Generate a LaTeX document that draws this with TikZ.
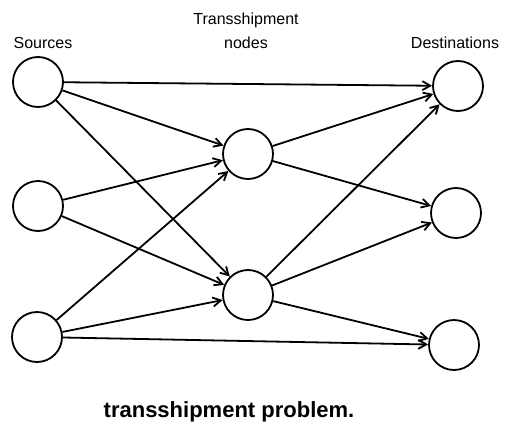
\documentclass[tikz,border=0pt]{standalone}
\usepackage{fontspec}
\setmainfont{Liberation Sans}
\usepackage{tikz}
\usetikzlibrary{arrows.meta,positioning,calc}
\tikzset{site/.style={draw=black,circle,inner sep=0pt,minimum size=50pt,line width=1.8pt}}
\tikzset{lbl/.style={font=\fontsize{16}{24}\selectfont,align=center,inner sep=0pt}}

\begin{document}
\begin{tikzpicture}[x=1pt, y=-1pt, line width=1.8pt, >={Straight Barb[length=8pt,width=9pt]}]
    \useasboundingbox (0,0) rectangle (510,425);
    % sources
    \node[site] (s1) at (38,82) {};
    \node[site] (s2) at (38,206) {};
    \node[site] (s3) at (37,337) {};
    % transshipment nodes
    \node[site] (t1) at (248,154) {};
    \node[site] (t2) at (248,295) {};
    % destinations
    \node[site] (d1) at (458,86) {};
    \node[site] (d2) at (456,213) {};
    \node[site] (d3) at (454,345) {};

    \node[lbl] (src) at (43,43) {Sources};
    \node[lbl] (tra) at (246,31) {Transshipment\\nodes};
    \node[lbl] (dst) at (455,43) {Destinations};
    \node[font=\fontsize{22}{26}\selectfont\bfseries] (cap) at (229,412) {transshipment problem.};

    \path[->] (s1) edge (d1);
    \path[->] (s1) edge (t1);
    \path[->] (s1) edge (t2);
    \path[->] (s2) edge (t1);
    \path[->] (s2) edge (t2);
    \path[->] (s3) edge (t1);
    \path[->] (s3) edge (t2);
    \path[->] (s3) edge (d3);
    \path[->] (t1) edge (d1);
    \path[->] (t1) edge (d2);
    \path[->] (t2) edge (d1);
    \path[->] (t2) edge (d2);
    \path[->] (t2) edge (d3);
\end{tikzpicture}
\end{document}
